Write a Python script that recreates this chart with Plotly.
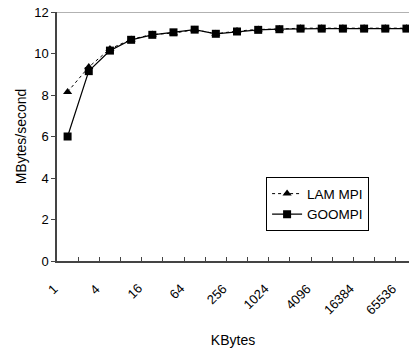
import plotly.graph_objects as go

sizes = ["1", "2", "4", "8", "16", "32", "64", "128", "256", "512", "1024",
         "2048", "4096", "8192", "16384", "32768", "65536"]
lam_mpi = [8.15, 9.35, 10.22, 10.68, 10.92, 10.98, 11.15, 10.95, 11.08, 11.16, 11.18,
           11.22, 11.22, 11.22, 11.22, 11.22, 11.22]
goompi = [6.0, 9.15, 10.14, 10.66, 10.9, 11.02, 11.15, 10.95, 11.06, 11.14, 11.17,
          11.2, 11.2, 11.2, 11.2, 11.2, 11.2]
label_idx = list(range(0, len(sizes), 2))
label_txt = [sizes[i] for i in label_idx]
boundaries = [i - 0.5 for i in range(len(sizes) + 1)]

xs = list(range(len(sizes)))
font = "Liberation Sans, Arial, sans-serif"
xrange = [-0.5, 16.12]

fig = go.Figure()
fig.add_trace(go.Scatter(x=xs, y=lam_mpi, name="LAM MPI", mode="lines+markers",
                         line=dict(color="black", width=1, dash="dot"),
                         marker=dict(symbol="triangle-up", size=8, color="black")))
fig.add_trace(go.Scatter(x=xs, y=goompi, name="GOOMPI", mode="lines+markers",
                         line=dict(color="black", width=1.2),
                         marker=dict(symbol="square", size=8, color="black")))

for i, t in zip(label_idx, label_txt):
    fig.add_annotation(x=i, y=0, xref="x", yref="paper", text=t, showarrow=False,
                       textangle=-45, xanchor="right", yanchor="top",
                       xshift=-6, yshift=-19, font=dict(size=13, family=font),
                       borderpad=0)

fig.update_layout(
    width=409, height=354,
    margin=dict(l=57, r=0, t=12, b=93),
    plot_bgcolor="white", paper_bgcolor="white",
    font=dict(family=font, size=13, color="black"),
    showlegend=True,
    legend=dict(x=0.594, y=0.336, xanchor="left", yanchor="top",
                bordercolor="black", borderwidth=1, bgcolor="white",
                font=dict(size=13.5), tracegroupgap=0, itemwidth=30),
    xaxis=dict(range=xrange, tickmode="array", tickvals=boundaries,
               ticks="inside", ticklen=4, tickcolor="#444", showticklabels=False,
               showgrid=False, zeroline=False, automargin=False,
               showline=True, linecolor="#444", linewidth=1.5,
               title=dict(text="KBytes", standoff=73, font=dict(size=14))),
    yaxis=dict(range=[0, 12], dtick=2, ticks="outside", ticklen=4, tickcolor="#444",
               showgrid=False, zeroline=False, showline=True, linecolor="#444", linewidth=1.5,
               automargin=False, ticklabeloverflow="allow",
               title=dict(text="MBytes/second", standoff=4, font=dict(size=14))),
)
fig.add_shape(type="line", xref="paper", yref="y", x0=0, x1=1, y0=12, y1=12,
              line=dict(color="#999", width=1.5))
fig.write_html("out.html", config={"displayModeBar": False},
               post_script="document.body.style.margin='0';")
